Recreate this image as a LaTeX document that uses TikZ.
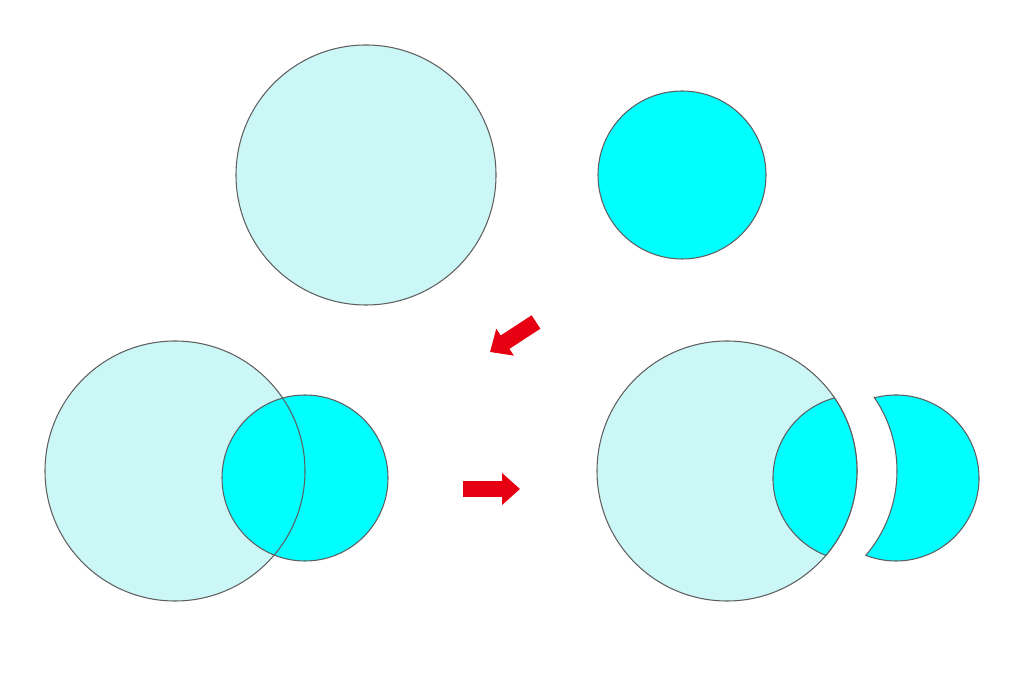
\documentclass[tikz,border=0pt]{standalone}
\usepackage{xcolor}
\usepackage{tikz}
\usetikzlibrary{arrows.meta}

\definecolor{palecyan}{RGB}{204,247,247}
\definecolor{fullcyan}{RGB}{0,255,255}
\definecolor{rimgray}{RGB}{95,95,95}
\definecolor{arrowred}{RGB}{230,0,18}

\begin{document}
\begin{tikzpicture}[
  x=0.02cm, y=0.02cm,
  rim/.style={draw=rimgray, line width=0.6pt},
  bigdisc/.style={rim, fill=palecyan},
  smalldisc/.style={rim, fill=fullcyan},
  blockarrow/.style={arrowred, line width=0.32cm, -{Triangle[length=0.36cm, width=0.62cm]}}
]
\useasboundingbox (0,0) rectangle (1024,683);

% Two starting discs
\coordinate (bigA) at (366,508);
\coordinate (smallA) at (682,508);
\path[bigdisc] (bigA) circle (130);
\path[smalldisc] (smallA) circle (84);

% Overlapping discs
\coordinate (bigB) at (175,212);
\coordinate (smallB) at (305,205);
\fill[palecyan] (bigB) circle (130);
\path[smalldisc] (smallB) circle (83);
\draw[rim] (bigB) circle (130);

% Cut result: lens stays, crescent moves off
\coordinate (bigC) at (727,212);
\coordinate (smallC) at (856,205);
\coordinate (bigD) at (767,212);
\coordinate (smallD) at (896,205);
\path[bigdisc] (bigC) circle (130);
\path[smalldisc] ([shift={(34.3:130)}]bigC) arc[start angle=34.3, end angle=-40.5, radius=130]
  arc[start angle=248.7, end angle=105.1, radius=83] -- cycle;
\path[smalldisc] ([shift={(105.1:83)}]smallD) arc[start angle=105.1, end angle=-111.3, radius=83]
  arc[start angle=-40.5, end angle=34.3, radius=130] -- cycle;

% Arrows
\coordinate (slantTail) at (536,361);
\coordinate (slantTip) at (490,331);
\coordinate (flatTail) at (463,194);
\coordinate (flatTip) at (520,194);
\draw[blockarrow] (slantTail) -- (slantTip);
\draw[blockarrow] (flatTail) -- (flatTip);

\end{tikzpicture}
\end{document}
